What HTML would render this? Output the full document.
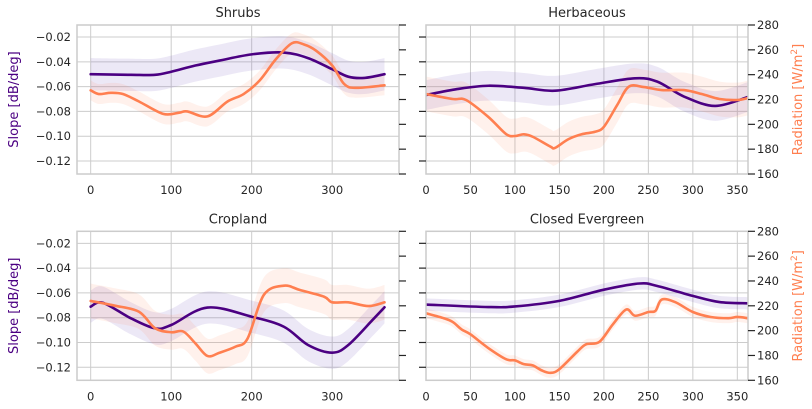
<!DOCTYPE html>
<html><head><meta charset="utf-8"><style>
html,body{margin:0;padding:0;background:#fff;}
svg{display:block;font-family:"DejaVu Sans","Liberation Sans",sans-serif;}
</style></head><body>
<svg id="chart" width="812" height="409" viewBox="0 0 812 409"></svg>
<script>
// ---- data ----
const titles = ["Shrubs","Herbaceous","Cropland","Closed Evergreen"];
const slopeTicks = [-0.02,-0.04,-0.06,-0.08,-0.10,-0.12];
const slopeTickLabels = ["\u22120.02","\u22120.04","\u22120.06","\u22120.08","\u22120.10","\u22120.12"];
const radTicks = [160,180,200,220,240,260,280];
const leftXTicks = [0,100,200,300];
const rightXTicks = [0,50,100,150,200,250,300,350];

const shrubsSlopeX = [0,50,80,100,130,160,200,240,270,300,320,340,365];
const shrubsSlopeY = [-0.050,-0.0505,-0.0505,-0.048,-0.043,-0.039,-0.034,-0.0325,-0.037,-0.046,-0.052,-0.053,-0.050];
const shrubsRadX = [0,10,25,40,60,90,110,120,145,170,190,210,230,250,265,280,300,315,330,365];
const shrubsRadY = [227.4,224.4,225.4,224.4,218.4,208.4,209.4,210.4,206.4,218.4,224.4,235.4,252.4,265.3,264.3,259.3,247.4,232.4,229.4,231.4];

const herbSlopeX = [0,35,70,110,145,190,235,260,290,325,362];
const herbSlopeY = [-0.0668,-0.062,-0.0593,-0.061,-0.0633,-0.058,-0.0533,-0.056,-0.068,-0.0756,-0.0684];
const herbRadX = [0,30,45,70,90,100,110,120,140,145,160,175,190,200,215,228,245,265,290,310,330,350,362];
const herbRadY = [224.4,220.4,219.6,206,192.2,190.6,192,190,182,181,188,192,194,198,215.6,230.3,230,227.6,227.6,224.4,220.4,219.6,221.2];

const cropSlopeX = [0,15,50,80,100,145,200,240,270,300,320,350,365];
const cropSlopeY = [-0.0711,-0.0679,-0.0805,-0.0886,-0.0859,-0.0718,-0.0792,-0.0873,-0.102,-0.1082,-0.102,-0.0819,-0.0716];
const cropRadX = [0,30,60,80,100,115,130,145,160,180,195,215,240,260,290,300,320,345,365];
const cropRadY = [223.9,220.1,215.2,201.9,198.7,199.3,189.8,179.6,182.2,187.1,193.8,228.7,236.2,232.7,227.3,222.8,222.8,219.8,222.8];

const everSlopeX = [0,70,100,150,200,240,260,300,330,362];
const everSlopeY = [-0.0694,-0.0714,-0.0709,-0.0664,-0.0574,-0.0524,-0.0544,-0.0624,-0.0674,-0.0684];
const everRadX = [0,20,30,40,50,70,90,100,110,120,130,140,150,170,180,195,210,225,235,250,258,265,280,300,320,340,350,362];
const everRadY = [214,210,207,201,197,186,177,176,173,172,168,166,169,183,189,191,205,217,212,215,216,225,223,215,211,210,211,210];

const slopeSpread = [0.013,0.012,0.013,0.005];
const radSpread = [8,14,14,4];

// ---- layout ----
const NS = "http://www.w3.org/2000/svg";
const svg = document.getElementById("chart");
function mk(tag, attrs, parent){ const e=document.createElementNS(NS,tag); for(const k in attrs) e.setAttribute(k,attrs[k]); (parent||svg).appendChild(e); return e; }

function smooth(pts, move){
  let d = move ? "M"+pts[0][0]+","+pts[0][1] : "L"+pts[0][0]+","+pts[0][1];
  for(let k=0;k<pts.length-1;k++){
    const p0=pts[Math.max(0,k-1)], p1=pts[k], p2=pts[k+1], p3=pts[Math.min(pts.length-1,k+2)];
    const c1x=p1[0]+(p2[0]-p0[0])/6, c1y=p1[1]+(p2[1]-p0[1])/6;
    const c2x=p2[0]-(p3[0]-p1[0])/6, c2y=p2[1]-(p3[1]-p1[1])/6;
    d+=" C"+c1x+","+c1y+" "+c2x+","+c2y+" "+p2[0]+","+p2[1];
  }
  return d;
}

const panels = [
  {x0:77,x1:399,y0:25,y1:174,xmin:-17,xmax:383,ticks:leftXTicks,left:true},
  {x0:426,x1:748,y0:25,y1:174,xmin:0,xmax:362,ticks:rightXTicks,left:false},
  {x0:77,x1:399,y0:231.3,y1:380.3,xmin:-17,xmax:383,ticks:leftXTicks,left:true},
  {x0:426,x1:748,y0:231.3,y1:380.3,xmin:0,xmax:362,ticks:rightXTicks,left:false}
];
const series = [
  [shrubsSlopeX,shrubsSlopeY,shrubsRadX,shrubsRadY],
  [herbSlopeX,herbSlopeY,herbRadX,herbRadY],
  [cropSlopeX,cropSlopeY,cropRadX,cropRadY],
  [everSlopeX,everSlopeY,everRadX,everRadY]
];
const SMIN=-0.1305, SMAX=-0.0103;

panels.forEach((p,i)=>{
  const g = mk("g",{});
  
  
  const sx = v => p.x0 + (v-p.xmin)/(p.xmax-p.xmin)*(p.x1-p.x0);
  const sy = v => p.y0 + (SMAX-v)/(SMAX-SMIN)*(p.y1-p.y0);
  const ry = v => p.y1 - (v-160)/120*(p.y1-p.y0);
  p.ticks.forEach(t=>{ mk("line",{x1:sx(t),x2:sx(t),y1:p.y0,y2:p.y1,stroke:"#cccccc","stroke-width":1},g); });
  slopeTicks.forEach(t=>{ mk("line",{x1:p.x0,x2:p.x1,y1:sy(t),y2:sy(t),stroke:"#cccccc","stroke-width":1},g); });
  const cid="clip"+i;
  const cp = mk("clipPath",{id:cid},g); mk("rect",{x:p.x0,y:p.y0,width:p.x1-p.x0,height:p.y1-p.y0},cp);
  const pg = mk("g",{"clip-path":"url(#"+cid+")"},g);
  const [sX,sY,rX,rY]=series[i];
  function band(xs,ys,fx,fy,d,fill,name){
    const up=xs.map((x,k)=>[fx(x),fy(ys[k]+d)]);
    const dn=xs.map((x,k)=>[fx(x),fy(ys[k]-d)]).reverse();
    const e=mk("path",{d:smooth(up,true)+" "+smooth(dn,false)+" Z",fill:fill},pg);
    
    
  }
  function line(xs,ys,fx,fy,color,name){
    const pts=xs.map((x,k)=>[fx(x),fy(ys[k])]);
    const e=mk("path",{d:smooth(pts,true),fill:"none",stroke:color,"stroke-width":2.6,"stroke-linejoin":"round","stroke-linecap":"round"},pg);
    
    
  }
  band(sX,sY,sx,sy,slopeSpread[i],"rgba(120,90,190,0.14)","slope-band");
  band(rX,rY,sx,ry,radSpread[i],"rgba(255,127,80,0.11)","radiation-band");
  line(sX,sY,sx,sy,"#4b0082","slope-line");
  line(rX,rY,sx,ry,"#ff7f50","radiation-line");
  mk("rect",{x:p.x0,y:p.y0,width:p.x1-p.x0,height:p.y1-p.y0,fill:"none",stroke:"#cccccc","stroke-width":1.5},g);
  const tt=mk("text",{x:(p.x0+p.x1)/2,y:p.y0-8,"text-anchor":"middle","font-size":13,fill:"#262626"},g);
  tt.textContent=titles[i];
  
  
  p.ticks.forEach(t=>{ const e=mk("text",{x:sx(t),y:p.y1+20,"text-anchor":"middle","font-size":11.5,fill:"#262626"},g); e.textContent=t;
    
     });
  slopeTicks.forEach((t,k)=>{
    if(p.left){ const e=mk("text",{x:p.x0-6,y:sy(t)+4,"text-anchor":"end","font-size":11.5,fill:"#262626"},g); e.textContent=slopeTickLabels[k];
      
       }
    else mk("line",{x1:p.x0-7,x2:p.x0,y1:sy(t),y2:sy(t),stroke:"#262626","stroke-width":1.2},g);
  });
  radTicks.forEach(t=>{
    mk("line",{x1:p.x1,x2:p.x1+7,y1:ry(t),y2:ry(t),stroke:"#262626","stroke-width":1.2},g);
    if(!p.left){ const e=mk("text",{x:p.x1+9,y:ry(t)+4,"text-anchor":"start","font-size":11.5,fill:"#262626"},g); e.textContent=t;
      
       }
  });
  const cy=(p.y0+p.y1)/2;
  if(p.left){
    const e=mk("text",{x:18,y:cy,"text-anchor":"middle","font-size":13,fill:"#4b0082",transform:"rotate(-90 18 "+cy+")"},g);
    e.textContent="Slope [dB/deg]";
    
    
  } else {
    const e=mk("text",{x:802,y:cy,"text-anchor":"middle","font-size":13,fill:"#ff7f50",transform:"rotate(-90 802 "+cy+")"},g);
    e.innerHTML='Radiation [W/m<tspan baseline-shift="super" font-size="9">2</tspan>]';
    
    
  }
});
</script>
</body></html>
